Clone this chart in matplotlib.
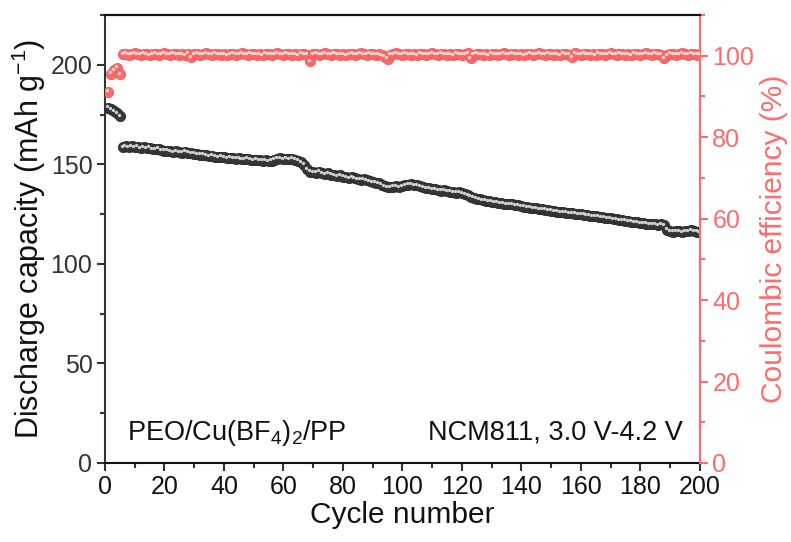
import numpy as np
import matplotlib
matplotlib.use("Agg")
import matplotlib.pyplot as plt
from matplotlib.transforms import offset_copy
from matplotlib.ticker import MultipleLocator

plt.rcParams['font.family'] = ['Liberation Sans', 'DejaVu Sans']
plt.rcParams['mathtext.fontset'] = 'custom'
plt.rcParams['mathtext.rm'] = 'Liberation Sans'
plt.rcParams['mathtext.it'] = 'Liberation Sans:italic'

# discharge capacity, cycles 1..200 (mAh g-1)
capacity = [
    178.5, 177.6, 176.8, 175.6, 174.2,
    158.8, 159.0, 158.7, 159.2, 158.6,
    158.9, 158.3, 158.7, 158.1, 158.4, 157.8, 157.5, 157.9, 157.2, 156.8,
    156.9, 156.5, 156.2, 156.6, 156.0, 155.8, 156.3, 155.9, 155.6, 155.4,
    155.1, 154.8, 154.9, 154.5, 154.1, 154.3, 153.9, 153.6, 153.8, 153.5,
    153.2, 153.4, 153.0, 152.8, 153.1, 152.7, 152.5, 152.8, 152.4, 152.2,
    152.3, 152.0, 151.8, 152.1, 151.7, 151.9, 152.4, 152.8, 153.0, 152.7,
    152.9, 152.6, 152.8, 152.3, 151.9, 151.2, 149.8, 147.6, 146.4, 146.0,
    145.8, 146.3, 145.4, 145.1, 145.6, 144.8, 144.5, 144.2, 144.6, 143.8,
    143.5, 143.2, 143.6, 142.9, 142.6, 142.3, 142.7, 141.9, 141.6, 141.2,
    140.8, 140.5, 139.8, 139.2, 138.6, 138.4, 138.8, 139.1, 138.7, 139.0,
    139.4, 139.8, 140.1, 139.7, 139.5, 139.2, 138.6, 138.2, 137.9, 137.6,
    137.4, 137.1, 136.8, 137.0, 136.6, 136.3, 136.1, 135.8, 135.9, 135.5,
    135.2, 134.6, 133.8, 133.2, 132.8, 132.5, 132.1, 131.8, 131.5, 131.2,
    131.0, 130.8, 130.5, 130.3, 130.1, 129.9, 130.0, 129.6, 129.4, 129.1,
    128.8, 128.6, 128.3, 128.1, 127.9, 127.6, 127.5, 127.2, 127.0, 126.8,
    126.6, 126.3, 126.1, 125.9, 125.7, 125.5, 125.6, 125.3, 125.1, 124.9,
    124.7, 124.5, 124.3, 124.1, 123.9, 123.7, 123.5, 123.2, 123.0, 122.8,
    122.6, 122.3, 122.1, 121.9, 121.7, 121.5, 121.2, 121.0, 120.8, 120.6,
    120.4, 120.2, 120.0, 119.8, 119.9, 119.6, 119.8, 119.4, 117.2, 116.4,
    116.2, 116.5, 116.3, 116.1, 116.4, 116.6, 116.8, 116.5, 116.2, 116.0,
]

# coulombic efficiency, cycles 1..200 (%)
efficiency = [
    91.2, 95.6, 96.4, 97.1, 95.4,
    100.4, 100.5, 100.3, 100.4, 100.6,
    100.4, 100.3, 100.5, 100.4, 100.2, 100.4, 100.5, 100.3, 100.4, 100.6,
    100.4, 100.3, 100.5, 100.4, 100.3, 100.4, 100.2, 100.5, 99.6, 100.4,
    100.5, 100.3, 100.4, 100.6, 100.4, 100.3, 100.5, 100.4, 100.3, 100.4,
    100.2, 100.4, 100.5, 100.3, 100.4, 100.6, 100.4, 100.3, 100.5, 100.4,
    100.3, 100.4, 100.2, 100.5, 100.4, 100.3, 100.4, 100.6, 100.4, 100.3,
    100.5, 100.4, 100.3, 100.4, 100.2, 100.5, 100.4, 100.3, 98.6, 100.4,
    100.5, 100.3, 100.4, 100.6, 100.4, 100.3, 100.5, 100.4, 100.3, 100.4,
    100.2, 100.4, 100.5, 100.3, 100.4, 100.6, 100.4, 100.3, 100.5, 100.4,
    100.3, 100.4, 100.2, 99.8, 99.3, 100.3, 100.4, 100.6, 100.4, 100.3,
    100.5, 100.4, 100.3, 100.4, 100.2, 100.5, 100.4, 100.3, 100.4, 100.6,
    100.4, 100.3, 100.5, 100.4, 100.3, 100.4, 100.2, 100.5, 100.4, 100.3,
    100.4, 100.6, 99.4, 100.3, 100.5, 100.4, 100.3, 100.4, 100.2, 100.5,
    100.4, 100.3, 100.4, 100.6, 100.4, 100.3, 100.5, 100.4, 100.3, 100.4,
    100.2, 100.4, 100.5, 100.3, 100.4, 100.6, 100.4, 100.3, 100.5, 100.4,
    100.3, 100.4, 100.2, 100.5, 100.4, 100.3, 99.6, 100.6, 100.4, 100.3,
    100.5, 100.4, 100.3, 100.4, 100.2, 100.5, 100.4, 100.3, 100.4, 100.6,
    100.4, 100.3, 100.5, 100.4, 100.3, 100.4, 100.2, 100.5, 100.4, 100.3,
    100.4, 100.6, 100.4, 100.3, 100.5, 100.4, 100.3, 99.4, 100.2, 100.5,
    100.4, 100.3, 100.4, 100.6, 100.4, 100.3, 100.5, 100.4, 100.3, 100.4,
]

cycles = np.arange(1, len(capacity) + 1)

red = '#ff6b6b'
dark = '#3a3a3a'

fig = plt.figure(figsize=(7.91, 5.42), dpi=100)
ax = fig.add_axes([0.1327, 0.1458, 0.752, 0.8265])
ax2 = ax.twinx()

# red efficiency spheres
ax2.plot(cycles, efficiency, 'o', ms=7.4, mfc=red, mec='#f05a5a', mew=0.6, zorder=2)
hl2 = offset_copy(ax2.transData, fig=fig, x=-1.3, y=1.3, units='dots')
ax2.plot(cycles, efficiency, 'o', ms=2.4, mfc='#ffd6d6', mec='none', transform=hl2, zorder=3)

# dark capacity spheres
ax.plot(cycles, capacity, 'o', ms=7.4, mfc=dark, mec='#2a2a2a', mew=0.6, zorder=2)
hl = offset_copy(ax.transData, fig=fig, x=-1.3, y=1.3, units='dots')
ax.plot(cycles, capacity, 'o', ms=2.4, mfc='#d0d0d0', mec='none', transform=hl, zorder=3)

ax.set_xlim(0, 200)
ax.set_ylim(0, 225)
ax2.set_ylim(0, 110)

ax.xaxis.set_major_locator(MultipleLocator(20))
ax.xaxis.set_minor_locator(MultipleLocator(10))
ax.yaxis.set_major_locator(MultipleLocator(50))
ax.yaxis.set_minor_locator(MultipleLocator(25))
ax2.yaxis.set_major_locator(MultipleLocator(20))
ax2.yaxis.set_minor_locator(MultipleLocator(10))

for a in (ax, ax2):
    for s in a.spines.values():
        s.set_linewidth(1.5)
ax.spines['left'].set_color('#333333')
ax.spines['bottom'].set_color('#111111')
ax.spines['top'].set_color('#111111')
ax2.spines['right'].set_color(red)
ax2.spines['left'].set_visible(False)
ax2.spines['bottom'].set_visible(False)
ax2.spines['top'].set_color('#111111')

ax.tick_params(axis='both', which='major', direction='out', length=6, width=1.5,
               labelsize=18, colors='#333333', pad=3)
ax.tick_params(axis='both', which='minor', direction='out', length=3.5, width=1.5,
               colors='#333333')
ax.tick_params(axis='x', which='both', top=False)
ax.tick_params(axis='x', labelcolor='#111111')
ax2.tick_params(axis='y', which='major', direction='out', length=6, width=1.5,
                labelsize=18, colors=red, pad=3)
ax2.tick_params(axis='y', which='minor', direction='out', length=3.5, width=1.5, colors=red)

ax.set_xlabel('Cycle number', fontsize=21.5, color='#111111', labelpad=1)
ax.set_ylabel('Discharge capacity (mAh g$^{-1}$)', fontsize=22, color='#111111', labelpad=2)
ax2.set_ylabel('Coulombic efficiency (%)', fontsize=21.5, color=red, labelpad=4)

ax.text(0.037, 0.067, 'PEO/Cu(BF$_4$)$_2$/PP', transform=ax.transAxes,
        fontsize=19.5, ha='left', va='center', color='#111111')
ax.text(0.971, 0.067, 'NCM811, 3.0 V-4.2 V', transform=ax.transAxes,
        fontsize=19.5, ha='right', va='center', color='#111111')

fig.savefig('out.png', dpi=100)
